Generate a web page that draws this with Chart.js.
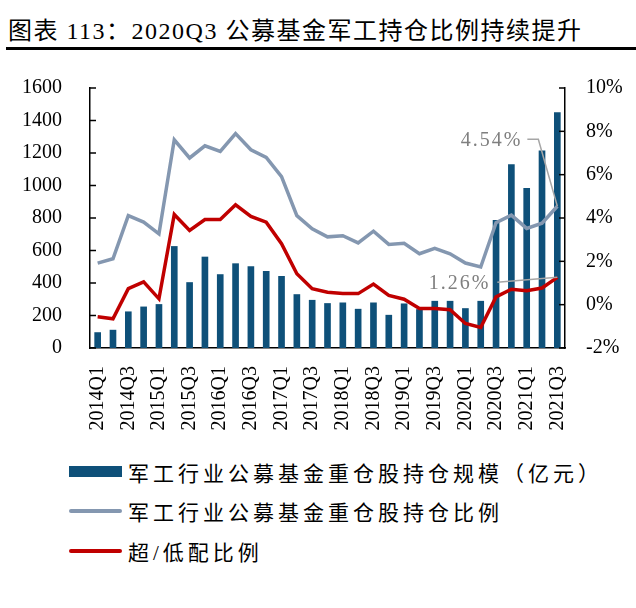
<!DOCTYPE html>
<html lang="zh">
  <head>
    <meta charset="UTF-8" />
    <title>2020Q3 公募基金军工持仓比例持续提升</title>
    <script src="https://cdn.jsdelivr.net/npm/chart.js"></script>
    <style>
      body {
        margin: 0;
        width: 636px;
        height: 608px;
        background: #fff;
        position: relative;
        font-family: "Liberation Serif", "Noto Sans CJK SC", serif;
        color: #000;
      }
      #title {
        position: absolute;
        left: 8px;
        top: 11px;
        font-size: 24px;
        letter-spacing: 1.5px;
        white-space: nowrap;
      }
      #rule {
        position: absolute;
        left: 6px;
        right: 0;
        top: 47px;
        height: 3px;
        background: #000;
      }
      #wrap {
        position: absolute;
        left: 0;
        top: 56px;
        width: 636px;
        height: 392px;
      }
      #legend {
        position: absolute;
        left: 69px;
        top: 452px;
      }
      .row {
        display: flex;
        align-items: center;
        height: 39.5px;
        font-size: 21px;
        letter-spacing: 4px;
        white-space: nowrap;
      }
      .mark {
        width: 53px;
        margin-right: 6px;
      }
    </style>
  </head>
  <body>
    <div id="title">图表 113：2020Q3 公募基金军工持仓比例持续提升</div>
    <div id="rule"></div>
    <div id="wrap"><canvas id="plot" width="636" height="392"></canvas></div>
    <div id="legend"></div>
    <script>
      const quarters = [
        "2014Q1", "2014Q2", "2014Q3", "2014Q4",
        "2015Q1", "2015Q2", "2015Q3", "2015Q4",
        "2016Q1", "2016Q2", "2016Q3", "2016Q4",
        "2017Q1", "2017Q2", "2017Q3", "2017Q4",
        "2018Q1", "2018Q2", "2018Q3", "2018Q4",
        "2019Q1", "2019Q2", "2019Q3", "2019Q4",
        "2020Q1", "2020Q2", "2020Q3", "2020Q4",
        "2021Q1", "2021Q2", "2021Q3",
      ];
      // 亿元
      const holdingSize = [
        95, 110, 223, 253, 268, 625, 403, 560, 452, 519, 501, 472, 441, 329,
        294, 274, 278, 239, 278, 202, 272, 237, 288, 288, 243, 288, 785, 1128,
        983, 1214, 1449,
      ];
      // %
      const holdingRatio = [
        1.92, 2.12, 4.11, 3.81, 3.27, 7.61, 6.77, 7.33, 7.07, 7.9, 7.15, 6.8,
        5.91, 4.11, 3.5, 3.13, 3.18, 2.85, 3.39, 2.78, 2.83, 2.35, 2.6, 2.35,
        1.92, 1.74, 3.78, 4.13, 3.52, 3.76, 4.54,
      ];
      const overUnder = [
        -0.56, -0.65, 0.74, 1.05, 0.27, 4.16, 3.43, 3.93, 3.93, 4.61, 4.07,
        3.81, 2.81, 1.43, 0.74, 0.57, 0.51, 0.51, 0.95, 0.43, 0.25, -0.18,
        -0.18, -0.23, -0.87, -1.05, 0.36, 0.71, 0.64, 0.77, 1.26,
      ];
      const seriesNames = [
        "军工行业公募基金重仓股持仓规模（亿元）",
        "军工行业公募基金重仓股持仓比例",
        "超/低配比例",
      ];
      const colors = ["#0E5079", "#8497B0", "#C00000"];

      const tickFont = {
        family: "'Liberation Serif', serif",
        size: 20,
      };

      // short tick marks pointing into the plot
      const innerTicks = {
        id: "innerTicks",
        afterDraw(chart) {
          const { ctx, chartArea } = chart;
          ctx.save();
          ctx.strokeStyle = "#000";
          ctx.lineWidth = 1.5;
          chart.scales.y.ticks.forEach((t) => {
            const y = chart.scales.y.getPixelForValue(t.value);
            ctx.beginPath();
            ctx.moveTo(chartArea.left, y);
            ctx.lineTo(chartArea.left + 6, y);
            ctx.stroke();
          });
          chart.scales.y1.ticks.forEach((t) => {
            const y = chart.scales.y1.getPixelForValue(t.value);
            ctx.beginPath();
            ctx.moveTo(chartArea.right, y);
            ctx.lineTo(chartArea.right - 6, y);
            ctx.stroke();
          });
          ctx.restore();
        },
      };

      // value callouts on the last quarter
      const callouts = {
        id: "callouts",
        afterDatasetsDraw(chart) {
          const { ctx } = chart;
          const last = quarters.length - 1;
          const x = chart.scales.x.getPixelForValue(last);
          const yg = chart.scales.y1.getPixelForValue(holdingRatio[last]);
          const yr = chart.scales.y1.getPixelForValue(overUnder[last]);
          ctx.save();
          ctx.strokeStyle = "#A6A6A6";
          ctx.lineWidth = 1.5;
          ctx.beginPath();
          ctx.moveTo(x - 30, yg - 67);
          ctx.lineTo(x - 19, yg - 67);
          ctx.lineTo(x, yg);
          ctx.stroke();
          ctx.beginPath();
          ctx.moveTo(x - 60, yr + 5);
          ctx.lineTo(x, yr);
          ctx.stroke();
          ctx.fillStyle = "#7F7F7F";
          ctx.font = "20px 'Liberation Serif', serif";
          ctx.letterSpacing = "2px";
          ctx.textAlign = "right";
          ctx.textBaseline = "middle";
          ctx.fillText(holdingRatio[last].toFixed(2) + "%", x - 35, yg - 66);
          ctx.fillText(overUnder[last].toFixed(2) + "%", x - 67, yr + 6);
          ctx.restore();
        },
      };

      const chart = new Chart(document.getElementById("plot"), {
        type: "bar",
        data: {
          labels: quarters,
          datasets: [
            {
              type: "line",
              label: seriesNames[2],
              data: overUnder,
              yAxisID: "y1",
              borderColor: colors[2],
              borderWidth: 3.5,
              pointRadius: 0,
              tension: 0,
              order: 1,
            },
            {
              type: "line",
              label: seriesNames[1],
              data: holdingRatio,
              yAxisID: "y1",
              borderColor: colors[1],
              borderWidth: 3.5,
              pointRadius: 0,
              tension: 0,
              order: 2,
            },
            {
              label: seriesNames[0],
              data: holdingSize,
              yAxisID: "y",
              backgroundColor: colors[0],
              barThickness: 6,
              order: 3,
            },
          ],
        },
        options: {
          responsive: false,
          animation: false,
          devicePixelRatio: 1,
          layout: { padding: { top: 31, left: 0, right: 0, bottom: 0 } },
          plugins: {
            legend: { display: false },
            tooltip: { enabled: false },
          },
          scales: {
            x: {
              grid: { display: false },
              border: { color: "#000", width: 1.5 },
              ticks: {
                color: "#000",
                font: tickFont,
                autoSkip: false,
                maxRotation: 90,
                minRotation: 90,
                padding: 10,
                callback: function (v, i) {
                  return i % 2 === 0 ? quarters[i] : "";
                },
              },
              afterFit(scale) {
                scale.height = 100;
              },
            },
            y: {
              position: "left",
              min: 0,
              max: 1600,
              grid: { display: false },
              border: { color: "#000", width: 1.5 },
              ticks: {
                color: "#000",
                font: tickFont,
                stepSize: 200,
                padding: 20,
                callback: (v) => String(v),
              },
              afterFit(scale) {
                scale.width = 90;
              },
            },
            y1: {
              position: "right",
              min: -2,
              max: 10,
              grid: { display: false },
              border: { color: "#000", width: 1.5 },
              ticks: {
                color: "#000",
                font: tickFont,
                stepSize: 2,
                padding: 13,
                callback: (v) => v + "%",
              },
              afterFit(scale) {
                scale.width = 71;
              },
            },
          },
        },
        plugins: [innerTicks, callouts],
      });

      // legend built from the chart's own datasets
      const legend = document.getElementById("legend");
      [2, 1, 0].forEach((di) => {
        const ds = chart.data.datasets[di];
        const row = document.createElement("div");
        row.className = "row";
        const mark = document.createElement("div");
        mark.className = "mark";
        if (ds.type === "line") {
          mark.style.height = "4px";
          mark.style.borderRadius = "2px";
          mark.style.background = ds.borderColor;
        } else {
          mark.style.height = "11px";
          mark.style.background = ds.backgroundColor;
        }
        const text = document.createElement("span");
        text.textContent = ds.label;
        row.appendChild(mark);
        row.appendChild(text);
        legend.appendChild(row);
      });
    </script>
  </body>
</html>
